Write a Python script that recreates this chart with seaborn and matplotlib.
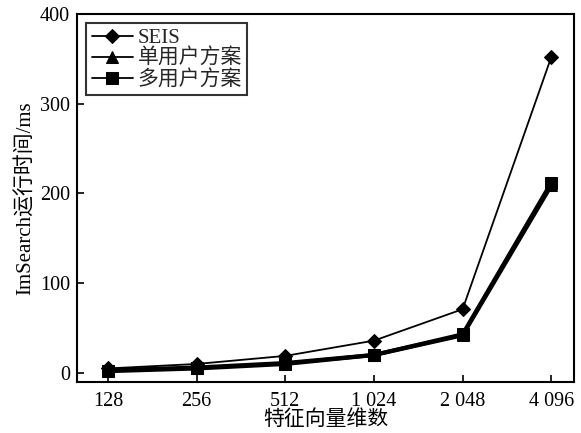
import matplotlib
matplotlib.use("Agg")
import matplotlib.pyplot as plt
import seaborn as sns
import pandas as pd
import numpy as np

categories = ["128", "256", "512", "1 024", "2 048", "4 096"]
seis = [5, 10, 19, 36, 71, 352]
single_user = [3, 6, 11, 20, 42, 209]
multi_user = [2, 5, 10, 20, 43, 212]
series_names = ["SEIS", "单用户方案", "多用户方案"]

sns.set_theme(style="white")
plt.rcParams['font.family'] = ['Liberation Serif', 'Noto Sans CJK SC']
plt.rcParams['axes.unicode_minus'] = False

fig = plt.figure(figsize=(5.81, 4.33), dpi=100)
ax = fig.add_axes([0.1325, 0.118, 0.856, 0.8497])

pos = np.arange(len(categories))
styles = [("D", 1.3, 7.5), ("^", 3.0, 8.5), ("s", 3.0, 8)]
for name, vals, (mk, lw, ms) in zip(series_names, [seis, single_user, multi_user], styles):
    df = pd.DataFrame({"x": pos, "y": vals})
    sns.lineplot(data=df, x="x", y="y", ax=ax, color="black", marker=mk,
                 linewidth=lw, markersize=ms, markeredgecolor="black", label=name)

ax.set_xlim(-0.35, 5.26)
ax.set_ylim(-10, 400)
ax.set_xticks(pos)
ax.set_xticklabels(categories)
ax.set_yticks([0, 100, 200, 300, 400])
ax.tick_params(direction="in", length=5, width=1.2, labelsize=14.5, colors="black",
               bottom=True, left=True, top=False, right=False, pad=5)
ax.tick_params(axis="x", pad=7)
for s in ax.spines.values():
    s.set_color("black")
    s.set_linewidth(1.5)
ax.set_xlabel("特征向量维数", fontsize=15, color="black", labelpad=0)
ax.set_ylabel("ImSearch运行时间/ms", fontsize=15, color="black", labelpad=3)

leg = ax.legend(loc="upper left", fontsize=15, frameon=True, fancybox=False,
                edgecolor="black", handlelength=2.0, handletextpad=0.2,
                borderpad=0.25, labelspacing=0.05, borderaxespad=0.45)
leg.get_frame().set_linewidth(1.5)
for line in leg.get_lines():
    line.set_linewidth(1.3)

fig.savefig("out.png", dpi=100)
